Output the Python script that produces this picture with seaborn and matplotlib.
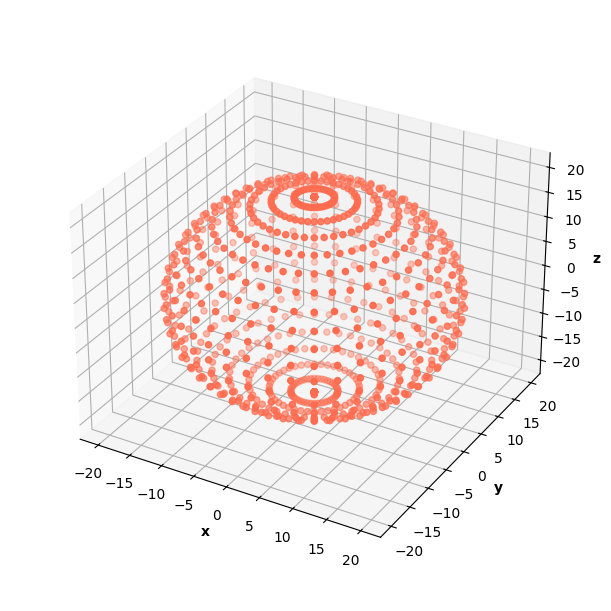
import numpy as np
import matplotlib
matplotlib.use("Agg")
import matplotlib.pyplot as plt
import seaborn as sns

sns.set_style("white")
plt.rcdefaults()

RADIUS = 20.0
LONGITUDES_DEG = [0, 8.57, 17.14, 25.71, 34.29, 42.86, 51.43, 60, 68.57, 77.14, 85.71, 94.29, 102.86, 111.43,
                  120, 128.57, 137.14, 145.71, 154.29, 162.86, 171.43, 180, 188.57, 197.14, 205.71, 214.29,
                  222.86, 231.43, 240, 248.57, 257.14, 265.71, 274.29, 282.86, 291.43, 300, 308.57, 317.14,
                  325.71, 334.29, 342.86, 351.43]
COLATITUDES_DEG = [0, 7.6, 16.4, 25.0, 33.6, 42.2, 50.7, 59.3, 67.9, 76.4, 85.0, 93.6, 102.2, 110.7,
                   119.3, 127.9, 136.4, 145.0, 153.6, 162.2, 170.8, 180]
TICKS = [-20, -15, -10, -5, 0, 5, 10, 15, 20]

lon = np.radians(LONGITUDES_DEG)
col = np.radians(COLATITUDES_DEG)
x = RADIUS * np.outer(np.cos(lon), np.sin(col)).ravel()
y = RADIUS * np.outer(np.sin(lon), np.sin(col)).ravel()
z = RADIUS * np.outer(np.ones_like(lon), np.cos(col)).ravel()

fig = plt.figure(figsize=(6.11, 6.11), dpi=100)
ax = fig.add_axes([0.0627, 0.0654, 0.880, 0.875], projection="3d")
ax.scatter(x, y, z, color="#ff6b4e", s=20)
ax.set_xticks(TICKS)
ax.set_yticks(TICKS)
ax.set_zticks(TICKS)
ax.set_xlabel("x", fontweight="bold", labelpad=2)
ax.set_ylabel("y", fontweight="bold", labelpad=2)
ax.set_zlabel("z", fontweight="bold", labelpad=2)
fig.savefig("out.png", dpi=100)
